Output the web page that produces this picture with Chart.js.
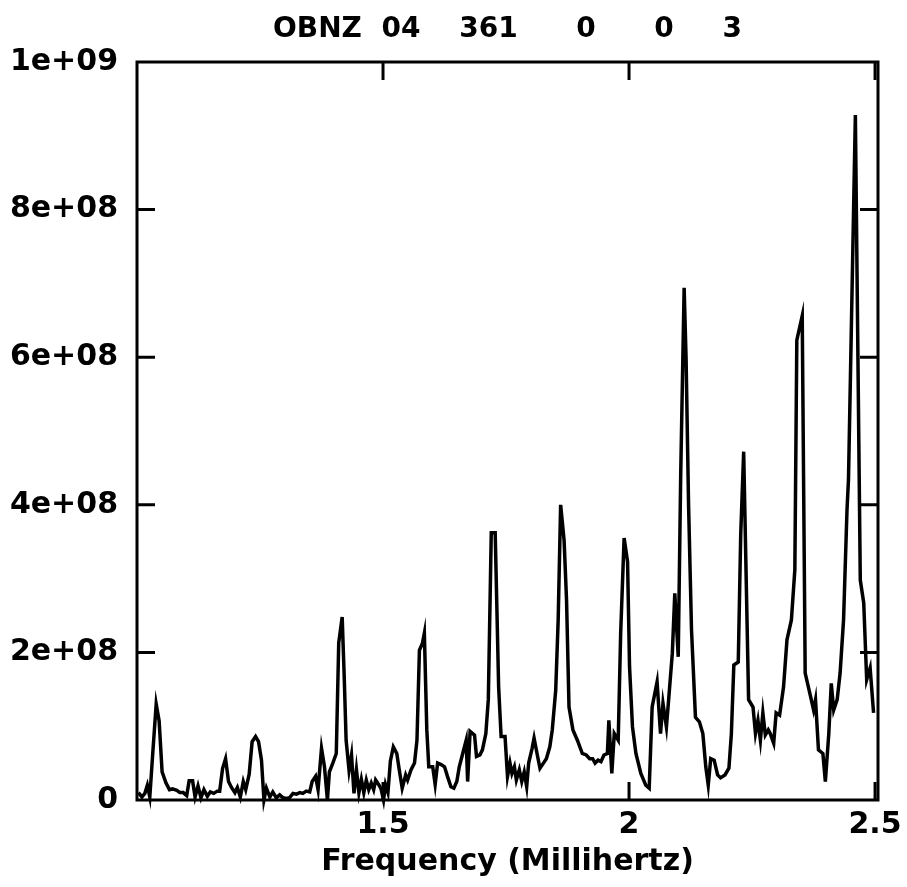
<!DOCTYPE html>
<html>
<head>
<meta charset="utf-8">
<script src="https://cdn.jsdelivr.net/npm/chart.js@4.4.1/dist/chart.umd.min.js"></script>
<style>
html,body{margin:0;padding:0;background:#ffffff;}
#c{display:block;}
</style>
</head>
<body>
<canvas id="c" width="907" height="887"></canvas>
<script>
// ---- text ----
const titleText = 'OBNZ  04    361      0      0     3';
const xAxisTitle = 'Frequency (Millihertz)';

// ---- axis ticks ----
const xTickValues = [1.5, 2, 2.5];
const xTickLabels = ['1.5', '2', '2.5'];
const yTickValues = [0, 2, 4, 6, 8, 10];           // in units of 1e8
const yTickLabels = ['0', '2e+08', '4e+08', '6e+08', '8e+08', '1e+09'];

// ---- data: frequency (mHz) and power (units of 1e8) ----
const frequencies = [
1.003,1.010,1.016,1.021,1.026,1.032,1.039,1.045,1.051,1.059,1.066,1.072,1.081,1.087,1.094,1.101,1.106,1.113,1.118,1.124,
1.130,1.136,1.143,1.149,1.156,1.163,1.168,1.174,1.180,1.186,1.192,1.199,1.204,1.210,1.216,1.221,1.228,1.234,1.241,1.247,
1.253,1.258,1.263,1.270,1.276,1.283,1.290,1.297,1.304,1.310,1.317,1.324,1.331,1.337,1.344,1.351,1.356,1.363,1.368,1.375,
1.381,1.387,1.391,1.398,1.405,1.410,1.417,1.421,1.425,1.431,1.436,1.441,1.446,1.451,1.456,1.461,1.466,1.471,1.476,1.481,
1.485,1.491,1.496,1.501,1.505,1.510,1.515,1.521,1.528,1.533,1.539,1.546,1.550,1.557,1.564,1.569,1.574,1.580,1.584,1.589,
1.593,1.601,1.606,1.611,1.618,1.625,1.631,1.638,1.644,1.650,1.655,1.662,1.669,1.672,1.677,1.686,1.690,1.697,1.702,1.709,
1.714,1.720,1.728,1.735,1.740,1.748,1.753,1.758,1.762,1.767,1.771,1.777,1.782,1.787,1.792,1.796,1.803,1.807,1.813,1.819,
1.826,1.832,1.839,1.844,1.851,1.856,1.861,1.868,1.873,1.878,1.886,1.895,1.905,1.913,1.920,1.926,1.931,1.937,1.943,1.949,
1.956,1.959,1.965,1.970,1.978,1.983,1.990,1.997,2.001,2.007,2.014,2.024,2.034,2.041,2.047,2.057,2.064,2.069,2.076,2.081,
2.088,2.093,2.100,2.105,2.112,2.116,2.121,2.127,2.135,2.143,2.150,2.156,2.161,2.166,2.173,2.180,2.186,2.195,2.203,2.208,
2.213,2.222,2.227,2.233,2.243,2.252,2.257,2.262,2.267,2.272,2.277,2.283,2.287,2.294,2.299,2.306,2.314,2.321,2.330,2.337,
2.341,2.352,2.358,2.369,2.375,2.379,2.385,2.394,2.399,2.406,2.411,2.416,2.423,2.429,2.436,2.443,2.446,2.460,2.470,2.477,
2.483,2.490,2.497
];
const powerE8 = [
0.10,0.04,0.09,0.20,0.04,0.63,1.30,1.07,0.38,0.23,0.14,0.15,0.13,0.10,0.10,0.06,0.26,0.26,0.04,0.19,
0.03,0.14,0.05,0.11,0.09,0.12,0.12,0.43,0.56,0.25,0.17,0.10,0.17,0.04,0.25,0.14,0.35,0.79,0.86,0.79,
0.54,0.00,0.16,0.04,0.11,0.03,0.07,0.03,0.02,0.03,0.09,0.08,0.10,0.09,0.12,0.11,0.25,0.32,0.14,0.70,
0.45,0.00,0.38,0.50,0.63,2.13,2.48,1.70,0.81,0.40,0.61,0.09,0.41,0.10,0.28,0.10,0.27,0.14,0.23,0.14,
0.27,0.21,0.15,0.00,0.21,0.10,0.53,0.72,0.63,0.41,0.16,0.34,0.27,0.41,0.50,0.81,2.03,2.12,2.26,0.95,
0.45,0.45,0.21,0.50,0.48,0.45,0.32,0.18,0.16,0.25,0.45,0.63,0.81,0.25,0.93,0.88,0.59,0.61,0.68,0.90,
1.36,3.62,3.62,1.53,0.86,0.86,0.32,0.50,0.36,0.45,0.27,0.41,0.25,0.38,0.18,0.50,0.70,0.84,0.63,0.43,
0.50,0.56,0.72,0.95,1.49,2.44,4.00,3.52,2.71,1.26,0.95,0.81,0.63,0.61,0.56,0.56,0.50,0.54,0.52,0.61,
0.63,1.08,0.36,0.90,0.81,2.26,3.55,3.23,1.81,0.99,0.63,0.36,0.20,0.16,1.26,1.60,0.90,1.31,0.99,1.40,
1.99,2.80,1.94,4.40,6.94,5.96,4.00,2.30,1.12,1.06,0.90,0.45,0.20,0.56,0.54,0.34,0.30,0.34,0.43,0.90,
1.83,1.87,3.60,4.72,1.36,1.26,0.90,1.08,0.81,1.18,0.88,0.95,0.90,0.77,1.18,1.15,1.53,2.17,2.44,3.12,
6.23,6.56,1.72,1.40,1.22,1.36,0.68,0.63,0.25,0.90,1.58,1.22,1.36,1.72,2.44,3.93,4.34,9.28,2.98,2.67,
1.63,1.79,1.18
];

const FONT = 'DejaVu Sans';

const points = frequencies.map((f, i) => ({ x: f, y: powerE8[i] }));

const frameAndTicks = {
  id: 'frameAndTicks',
  afterDraw(chart) {
    const ctx = chart.ctx;
    const a = chart.chartArea;
    const xs = chart.scales.x, ys = chart.scales.y;
    const L = 18;
    ctx.save();
    ctx.strokeStyle = '#000';
    ctx.lineWidth = 3;
    ctx.lineCap = 'butt';
    ctx.beginPath();
    yTickValues.forEach(v => {
      if (v <= ys.min || v >= ys.max) return;
      const py = ys.getPixelForValue(v);
      ctx.moveTo(a.left, py); ctx.lineTo(a.left + L, py);
      ctx.moveTo(a.right, py); ctx.lineTo(a.right - L, py);
    });
    xTickValues.forEach(v => {
      if (v <= xs.min || v > xs.max) return;
      const px = xs.getPixelForValue(v);
      ctx.moveTo(px, a.bottom); ctx.lineTo(px, a.bottom - L);
      ctx.moveTo(px, a.top); ctx.lineTo(px, a.top + L);
    });
    ctx.stroke();
    ctx.strokeRect(a.left, a.top, a.right - a.left, a.bottom - a.top);
    ctx.restore();
  }
};

new Chart(document.getElementById('c'), {
  type: 'line',
  data: {
    datasets: [{
      data: points,
      borderColor: '#000000',
      borderWidth: 3.5,
      pointRadius: 0,
      tension: 0,
      fill: false,
      clip: false
    }]
  },
  options: {
    responsive: false,
    animation: false,
    devicePixelRatio: 1,
    layout: { padding: { left: 0, right: 29, top: 0, bottom: 0 } },
    plugins: {
      legend: { display: false },
      tooltip: { enabled: false },
      title: {
        display: true,
        text: titleText,
        fullSize: false,
        align: 'center',
        color: '#000',
        font: { family: FONT, size: 28, weight: 'bold', lineHeight: 1.2 },
        padding: { top: 13, bottom: 15.4 }
      }
    },
    scales: {
      x: {
        type: 'linear',
        min: 1.0,
        max: 2.506,
        afterBuildTicks(scale) { scale.ticks = xTickValues.map(v => ({ value: v })); },
        afterFit(scale) { scale.height = 87; },
        grid: { display: false, drawTicks: false },
        border: { display: false },
        ticks: {
          padding: 0,
          color: '#000',
          maxRotation: 0,
          font: { family: FONT, size: 30, weight: 'bold', lineHeight: 1.65 },
          callback(v) { const i = xTickValues.indexOf(v); return i >= 0 ? xTickLabels[i] : ''; }
        },
        title: {
          display: true,
          text: xAxisTitle,
          color: '#000',
          font: { family: FONT, size: 30, weight: 'bold', lineHeight: 1.2 },
          padding: { top: 0, bottom: 7 }
        }
      },
      y: {
        type: 'linear',
        min: 0,
        max: 10,
        afterBuildTicks(scale) { scale.ticks = yTickValues.map(v => ({ value: v })); },
        afterFit(scale) { scale.width = 137; },
        grid: { display: false, drawTicks: false },
        border: { display: false },
        ticks: {
          padding: 19,
          color: '#000',
          font: { family: FONT, size: 30, weight: 'bold', lineHeight: 1.2 },
          callback(v) { const i = yTickValues.indexOf(v); return i >= 0 ? yTickLabels[i] : ''; }
        }
      }
    }
  },
  plugins: [frameAndTicks]
});
</script>
</body>
</html>
